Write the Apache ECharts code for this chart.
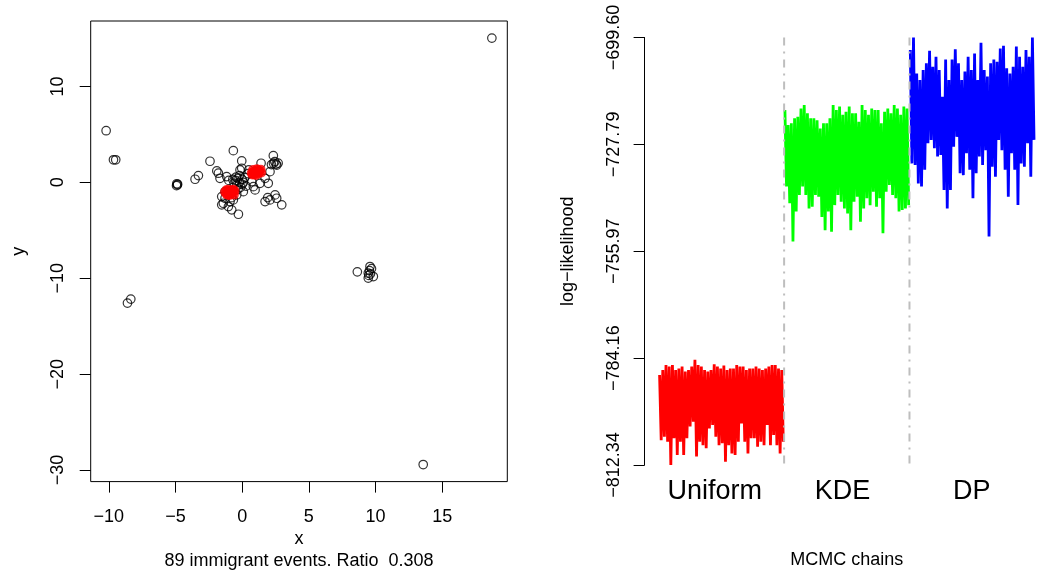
<!DOCTYPE html>
<html><head><meta charset="utf-8">
<script src="https://cdn.jsdelivr.net/npm/echarts@6/dist/echarts.min.js"></script>
<style>html,body{margin:0;padding:0;background:#fff}#c{width:1049px;height:576px}</style>
</head><body><div id="c"></div>
<script>
// ---- Left panel: immigrant events (open circles) and cluster centres (red dots)
const eventX = [-10.2, -9.65, -9.48, -8.60, -8.35, -4.90, -4.86, -4.92, -4.84, -3.53, -3.28, 18.73, 13.58, 8.64,
  9.46, 9.59, 9.46, 9.84, 9.55, 9.70, 9.50, 9.62,
  -0.66, -2.41, -0.03, 2.34, 2.35, 2.55, 2.70, 2.60, 2.20, 2.45, -1.90, -1.78, -1.66, -1.16, -0.16, -0.03,
  0.72, 0.84, 0.97, 1.34, 1.96, 1.72, 1.92, 2.09, 2.47, 2.59, 2.97, 1.72, -1.41, -1.53, -1.03, -0.78, -0.28,
  -0.91, -0.66, -1.53, -1.28, 0.09, -0.5, -0.3, -0.2, -0.4, 0.0, -0.1, 0.1, -0.6, -0.3, 0.2, -0.2, -0.7, 0.0,
  -0.45, 1.42, 2.09, 0.5, -1.28, -0.4, -1.0, 0.3, -0.8, 0.45];
const eventY = [5.38, 2.35, 2.35, -12.59, -12.17, -0.15, -0.27, -0.35, -0.2, 0.32, 0.70, 15.04, -29.42, -9.33,
  -9.46, -8.78, -9.98, -9.82, -9.2, -9.0, -9.7, -9.55,
  3.30, 2.20, 2.23, 2.78, 2.0, 1.9, 2.0, 1.8, 1.85, 2.15, 1.19, 0.95, 0.42, 0.60, 1.29, 1.47,
  0.07, -0.45, -0.79, -0.10, -0.10, 0.42, -1.59, -1.83, -1.31, -1.66, -2.35, -2.01, -2.18, -2.35, -2.53, -2.87, -3.33,
  -2.01, -1.83, -1.49, -0.97, -0.97, 0.2, 0.4, 0.0, -0.3, 0.3, -0.5, 0.0, -0.1, -0.7, 0.5, 0.7, 0.3, -0.2,
  0.55, 1.99, 1.11, 1.3, -1.66, -1.3, 0.2, -0.4, -1.6, 0.9];
const centerX = [-1.3, -1.2, -1.1, -1.0, -0.9, -0.8, -0.7, -0.6, -0.55, -1.2, -0.95, -0.85, -1.05, -0.65,
  0.7, 0.8, 0.9, 1.0, 1.1, 1.2, 1.3, 1.45, 1.4, 0.85, 1.05, 1.25, 0.75, 1.15];
const centerY = [-1.0, -0.8, -1.3, -0.9, -1.2, -0.8, -1.1, -1.3, -0.9, -1.2, -1.35, -1.0, -0.75, -0.75,
  1.0, 1.3, 0.8, 1.1, 1.4, 0.9, 1.2, 1.0, 1.35, 1.1, 0.75, 1.05, 0.8, 1.3];
const xTicks = [-10, -5, 0, 5, 10, 15];
const yTicks = [-30, -20, -10, 0, 10];
const subtitle = '89 immigrant events. Ratio  0.308';

// ---- Right panel: MCMC log-likelihood traces
const chainNames = ['Uniform', 'KDE', 'DP'];
const chainColors = ['#FF0000', '#00FF00', '#0000FF'];
const uniformTrace = [
  -788.6, -805.8, -787.3, -804.9, -786.0, -806.2, -786.4, -812.34, -786.0, -805.3, -787.3, -809.7,
  -786.9, -806.2, -786.4, -809.7, -787.7, -805.3, -787.3, -802.2, -786.4, -800.9, -784.6, -810.1,
  -786.0, -806.2, -786.4, -807.1, -787.3, -807.9, -787.7, -802.7, -787.3, -801.8, -785.8, -804.9,
  -786.4, -807.1, -786.9, -806.6, -786.1, -811.5, -787.3, -807.1, -786.9, -809.3, -786.9, -809.7,
  -786.0, -806.2, -786.4, -801.4, -786.4, -806.2, -787.3, -809.3, -786.9, -805.3, -786.9, -805.3,
  -786.4, -807.5, -786.9, -806.2, -787.3, -807.1, -786.9, -801.8, -786.4, -807.1, -786.0, -804.4,
  -786.0, -807.1, -786.9, -809.3, -787.3, -806.2];
const kdeTrace = [
  -718.7, -738.9, -722.7, -743.3, -722.2, -753.4, -720.9, -745.5, -720.5, -741.1, -718.3, -738.9,
  -717.4, -741.1, -719.6, -744.7, -720.9, -744.2, -720.9, -741.1, -721.4, -741.6, -723.6, -746.9,
  -722.2, -750.4, -722.2, -745.5, -720.9, -750.8, -717.4, -743.8, -718.7, -741.1, -717.8, -742.9,
  -720.0, -744.7, -719.2, -746.0, -717.8, -750.4, -719.6, -742.9, -719.6, -741.6, -721.8, -748.2,
  -717.4, -744.7, -718.7, -742.0, -720.0, -743.8, -718.3, -740.3, -718.7, -744.2, -718.7, -742.0,
  -722.2, -751.2, -719.2, -740.3, -718.3, -738.5, -719.6, -741.1, -717.4, -742.0, -718.3, -745.5,
  -720.0, -745.1, -717.8, -744.7, -718.3, -743.8];
const dpTrace = [
  -702.9, -732.8, -699.6, -733.2, -709.1, -738.1, -710.8, -738.9, -708.2, -734.5, -706.4, -727.5,
  -703.1, -726.6, -707.3, -728.8, -704.7, -731.0, -708.2, -730.6, -715.2, -739.8, -705.4, -744.7,
  -710.8, -739.8, -705.4, -728.4, -702.7, -725.8, -706.4, -735.4, -710.8, -735.9, -708.6, -730.1,
  -704.7, -734.5, -708.2, -742.0, -703.8, -735.4, -710.8, -731.0, -701.0, -733.2, -708.2, -729.3,
  -709.9, -752.1, -706.4, -733.7, -705.4, -736.3, -706.0, -726.6, -702.5, -729.3, -701.8, -734.5,
  -707.7, -741.6, -709.1, -730.1, -707.3, -734.5, -702.0, -743.8, -704.7, -732.8, -707.3, -733.7,
  -702.9, -727.5, -704.7, -736.3, -699.6, -726.6];
const llTicks = [-812.34, -784.16, -755.97, -727.79, -699.60];
const llTickLabels = ['\u2212812.34', '\u2212784.16', '\u2212755.97', '\u2212727.79', '\u2212699.60'];

// ---------------------------------------------------------------
const FONT = 'Liberation Sans';
function rlim(arr) { const mn = Math.min(...arr), mx = Math.max(...arr), r = mx - mn; return [mn - 0.04 * r, mx + 0.04 * r]; }
const allX = eventX.concat(centerX), allY = eventY.concat(centerY);
const xl = rlim(allX), yl = rlim(allY);
const minus = v => String(v).replace('-', '\u2212');

const traces = [uniformTrace, kdeTrace, dpTrace];
const starts = []; let acc = 0;
traces.forEach(t => { starts.push(acc); acc += t.length; });
const M = acc;
const rxMin = -0.04 * (M - 1), rxMax = (M - 1) * 1.04;
const labelFrac = [0.44, 0.46, 0.49];
const labelPos = traces.map((t, i) => starts[i] + labelFrac[i] * t.length);
const yMin = llTicks[0], yMax = llTicks[llTicks.length - 1];

const series = [
  { type: 'scatter', xAxisIndex: 0, yAxisIndex: 0, symbol: 'circle', symbolSize: 8.5,
    data: eventX.map((x, i) => [x, eventY[i]]),
    itemStyle: { color: 'rgba(0,0,0,0)', borderColor: '#000', borderWidth: 1.2 }, z: 2 },
  { type: 'scatter', xAxisIndex: 0, yAxisIndex: 0, symbol: 'circle', symbolSize: 9.5,
    data: centerX.map((x, i) => [x, centerY[i]]),
    itemStyle: { color: '#FF0000' }, z: 3 }
];
traces.forEach((t, k) => {
  series.push({ type: 'line', xAxisIndex: 1, yAxisIndex: 1, showSymbol: false, symbol: 'none',
    data: t.map((v, i) => [starts[k] + i, v]),
    lineStyle: { color: chainColors[k], width: 2.8, join: 'miter', cap: 'butt' }, z: 2 });
});
for (let k = 1; k < traces.length; k++) {
  const bx = starts[k] - 0.5;
  series.push({ type: 'line', xAxisIndex: 1, yAxisIndex: 1, showSymbol: false, symbol: 'none',
    data: [[bx, yMax], [bx, yMin]],
    lineStyle: { color: '#BEBEBE', width: 2, type: [8, 6, 2, 6] }, z: 5 });
}

const tickLbl = { fontFamily: FONT, fontSize: 18, color: '#000' };
const option = {
  animation: false,
  backgroundColor: '#fff',
  grid: [
    { left: 90.7, top: 21, width: 416.6, height: 460.6, show: true, borderColor: '#000', borderWidth: 1, backgroundColor: 'transparent' },
    { left: 644.6, top: 37.5, width: 414.7, height: 427.5, show: false }
  ],
  xAxis: [
    { gridIndex: 0, type: 'value', min: xl[0], max: xl[1], position: 'bottom',
      axisLine: { show: false, onZero: false }, splitLine: { show: false },
      axisTick: { show: true, length: 11, customValues: xTicks, lineStyle: { color: '#000', width: 1 } },
      axisLabel: Object.assign({ customValues: xTicks, margin: 26, formatter: minus }, tickLbl),
      name: 'x', nameLocation: 'middle', nameGap: 48, nameTextStyle: tickLbl },
    { gridIndex: 1, type: 'value', min: rxMin, max: rxMax, position: 'bottom',
      axisLine: { show: false, onZero: false }, splitLine: { show: false }, axisTick: { show: false },
      axisLabel: { customValues: labelPos, margin: 13, fontFamily: FONT, fontSize: 27, color: '#000',
        formatter: v => { const i = labelPos.findIndex(p => Math.abs(p - v) < 1e-6); return i >= 0 ? chainNames[i] : ''; } },
      name: 'MCMC chains', nameLocation: 'middle', nameGap: 86, nameTextStyle: tickLbl }
  ],
  yAxis: [
    { gridIndex: 0, type: 'value', min: yl[0], max: yl[1], position: 'left',
      axisLine: { show: false, onZero: false }, splitLine: { show: false },
      axisTick: { show: true, length: 11, customValues: yTicks, lineStyle: { color: '#000', width: 1 } },
      axisLabel: Object.assign({ customValues: yTicks, margin: 24, rotate: 90, formatter: minus }, tickLbl),
      name: 'y', nameLocation: 'middle', nameRotate: 90, nameGap: 63, nameTextStyle: tickLbl },
    { gridIndex: 1, type: 'value', min: yMin, max: yMax, position: 'left',
      axisLine: { show: true, onZero: false, lineStyle: { color: '#000', width: 1 } }, splitLine: { show: false },
      axisTick: { show: true, length: 11, customValues: llTicks, lineStyle: { color: '#000', width: 1 } },
      axisLabel: Object.assign({ customValues: llTicks, margin: 22, rotate: 90,
        formatter: v => { const i = llTicks.findIndex(p => Math.abs(p - v) < 1e-6); return i >= 0 ? llTickLabels[i] : ''; } }, tickLbl),
      name: 'log\u2212likelihood', nameLocation: 'middle', nameRotate: 90, nameGap: 68, nameTextStyle: tickLbl }
  ],
  graphic: [
    { type: 'text', x: 299, y: 560.7, style: { text: subtitle, font: '18px "Liberation Sans"', fill: '#000', align: 'center', verticalAlign: 'middle' } }
  ],
  series: series
};
const chart = echarts.init(document.getElementById('c'), null, { renderer: 'canvas' });
chart.setOption(option);
</script></body></html>
